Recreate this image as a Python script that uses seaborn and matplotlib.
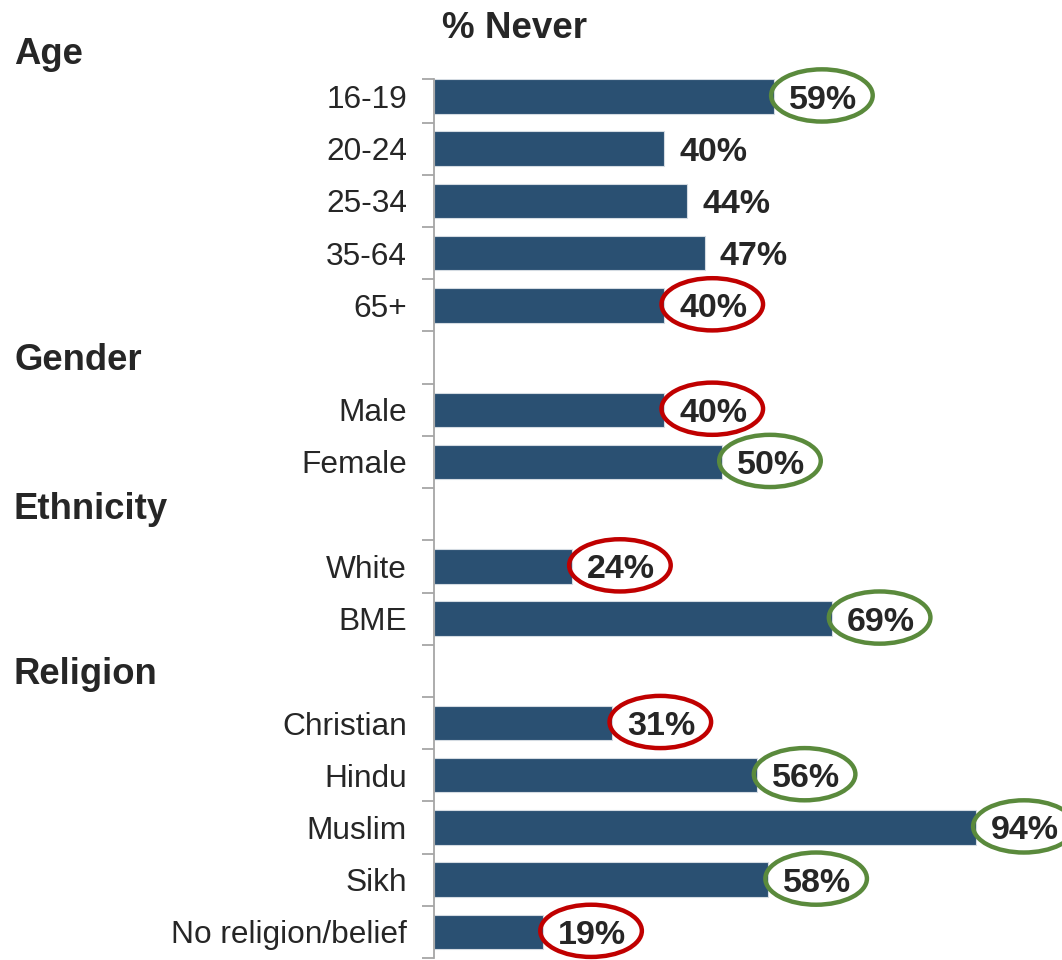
import numpy as np
import pandas as pd
import matplotlib
matplotlib.use("Agg")
import matplotlib.pyplot as plt
import matplotlib.transforms as mtransforms
from matplotlib.patches import Ellipse
from matplotlib.ticker import FixedLocator
import seaborn as sns

sns.set_style("white")
plt.rcParams["font.family"] = ["Liberation Sans", "DejaVu Sans"]

# ---- data -------------------------------------------------------------
groups = ["Age", "Gender", "Ethnicity", "Religion"]
categories = ["16-19", "20-24", "25-34", "35-64", "65+",
              "Male", "Female",
              "White", "BME",
              "Christian", "Hindu", "Muslim", "Sikh", "No religion/belief"]
group_of = ["Age"] * 5 + ["Gender"] * 2 + ["Ethnicity"] * 2 + ["Religion"] * 5
never_pct = [59, 40, 44, 47, 40, 40, 50, 24, 69, 31, 56, 94, 58, 19]
# "high" = ringed in green, "low" = ringed in red, "" = no ring
highlight = ["high", "", "", "", "low", "low", "high", "low", "high",
             "low", "high", "high", "high", "low"]

df = pd.DataFrame({"category": categories, "group": group_of, "pct": never_pct,
                   "flag": highlight})

# category order with an empty row for each group heading after the first
order = []
for g in groups:
    if g != groups[0]:
        order.append(g)
    order.extend(df.loc[df.group == g, "category"].tolist())
pos = {c: i for i, c in enumerate(order)}

BAR = "#2a5072"
RING = {"high": "#5a8a3c", "low": "#c00000"}
TEXT = "#262626"
AXIS = "#a6a6a6"

fig = plt.figure(figsize=(10.62, 9.6), dpi=100)
ax = fig.add_axes([0.4082, 0.0021, 0.5918, 0.9156])

sns.barplot(data=df, x="pct", y="category", order=order, orient="h",
            color=BAR, saturation=1, width=0.66, edgecolor="#d4dbe2",
            linewidth=0.8, ax=ax)

top = -0.335
ax.set_xlim(0, 108.9)
ax.set_ylim(len(order) - 0.5, top)

ax.set_yticks(range(len(order)))
ax.set_yticklabels([c if c in categories else "" for c in order],
                   fontsize=22.8, color=TEXT)
ax.yaxis.set_minor_locator(FixedLocator([top] + list(np.arange(0.5, len(order), 1.0))))
ax.tick_params(axis="y", which="both", left=True)
ax.tick_params(axis="y", which="major", length=0, pad=19)
ax.tick_params(axis="y", which="minor", length=9, width=1.3, color=AXIS,
               direction="out")
ax.set_xticks([])
ax.set_xlabel("")
ax.set_ylabel("")
for s in ("top", "right", "bottom"):
    ax.spines[s].set_visible(False)
ax.spines["left"].set_color(AXIS)
ax.spines["left"].set_linewidth(1.3)

# value labels, some ringed
for cat, v, flag in zip(categories, never_pct, highlight):
    y = pos[cat]
    ax.text(v + 8.5, y + 0.23, f"{v}%", ha="center", va="baseline",
            fontsize=24.5, fontweight="bold", color=TEXT, clip_on=False)
    if flag:
        ax.add_patch(Ellipse((v + 8.3, y - 0.02), width=17.6, height=1.0,
                             fill=False, edgecolor=RING[flag], linewidth=3.2,
                             clip_on=False))

# group headings at the far left
trans = mtransforms.blended_transform_factory(fig.transFigure, ax.transData)
heading_y = {"Age": -0.622, "Gender": 5.24, "Ethnicity": 8.09, "Religion": 11.25}
for g in groups:
    ax.text(14 / 1062, heading_y[g], g, transform=trans, ha="left",
            va="baseline", fontsize=26.3, fontweight="bold", color=TEXT,
            clip_on=False)

fig.text(514 / 1062, 1 - 38 / 960, "% Never", ha="center", va="baseline",
         fontsize=26.5, fontweight="bold", color=TEXT)

fig.savefig("out.png", dpi=100)
